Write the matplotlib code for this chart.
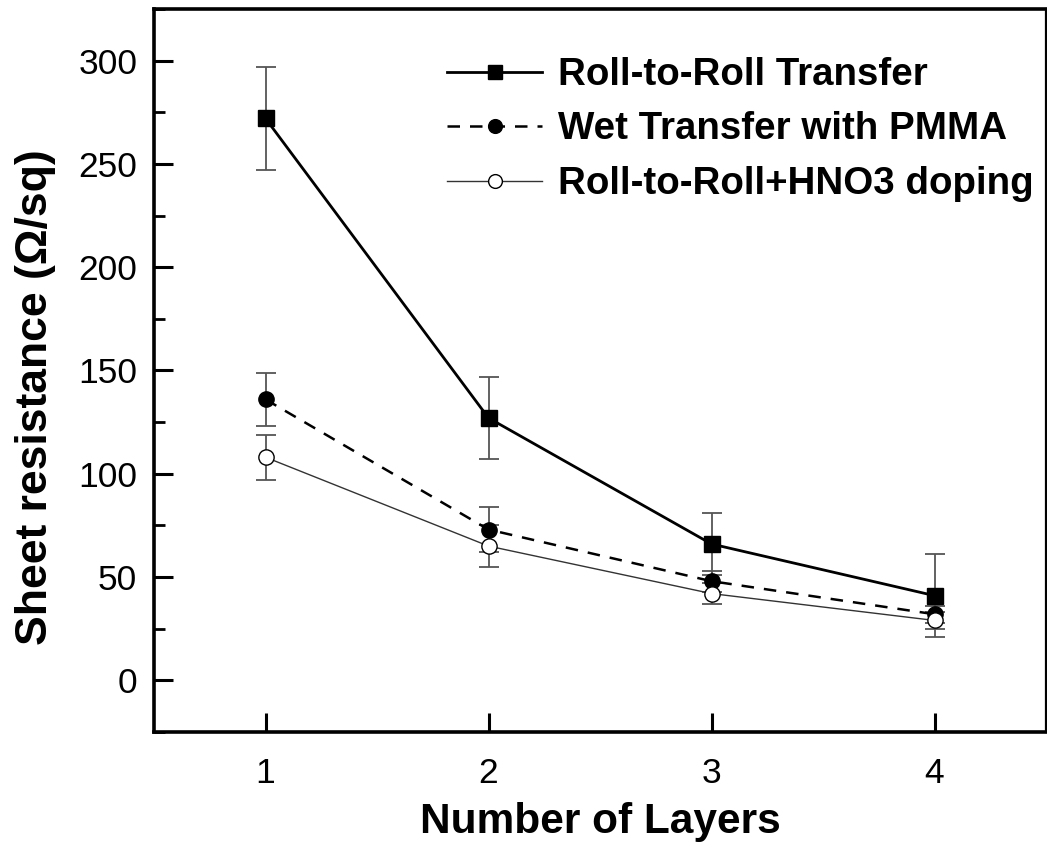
import matplotlib
matplotlib.use("Agg")
import matplotlib.pyplot as plt
from matplotlib.ticker import MultipleLocator

layers = [1, 2, 3, 4]
r2r = [272, 127, 66, 41]
r2r_err = [25, 20, 15, 20]
wet = [136, 73, 48, 32]
wet_err = [13, 11, 5, 4]
dop = [108, 65, 42, 29]
dop_err = [11, 10, 5, 4]
labels = ["Roll-to-Roll Transfer", "Wet Transfer with PMMA", "Roll-to-Roll+HNO3 doping"]

plt.rcParams['font.family'] = ['Liberation Sans', 'DejaVu Sans']

fig = plt.figure(figsize=(10.47, 8.48), dpi=100)
ax = fig.add_axes([0.1471, 0.1368, 0.852, 0.8526])

ebkw = dict(fmt='none', ecolor='#555555', elinewidth=1.3, capsize=7, capthick=1.3, zorder=1)
ax.errorbar(layers, r2r, yerr=r2r_err, **ebkw)
ax.errorbar(layers, wet, yerr=wet_err, **ebkw)
ax.errorbar(layers, dop, yerr=dop_err, **ebkw)

h1, = ax.plot(layers, r2r, '-', color='black', lw=2.0, marker='s', ms=11,
              mfc='black', mec='black', zorder=3, label=labels[0])
h2, = ax.plot(layers, wet, '--', color='black', lw=1.8, dashes=(5, 4), marker='o', ms=11,
              mfc='black', mec='black', zorder=3, label=labels[1])
h3, = ax.plot(layers, dop, '-', color='#333333', lw=1.0, marker='o', ms=11,
              mfc='white', mec='black', mew=1.0, zorder=4, label=labels[2])

ax.set_xlim(0.5, 4.5)
ax.set_ylim(-25, 325)
ax.set_xticks(layers)
ax.yaxis.set_major_locator(MultipleLocator(50))
ax.yaxis.set_minor_locator(MultipleLocator(25))
ax.tick_params(axis='both', which='major', direction='in', length=14, width=2.2,
               labelsize=25.5)
ax.tick_params(axis='y', which='major', pad=12)
ax.tick_params(axis='x', which='major', pad=18)
ax.tick_params(axis='y', which='minor', direction='in', length=8, width=2.0)
ax.tick_params(axis='x', which='minor', bottom=False)
for s in ['left', 'bottom', 'top']:
    ax.spines[s].set_linewidth(2.6)
ax.spines['right'].set_linewidth(1.6)

ax.set_xlabel("Number of Layers", fontsize=30.5, fontweight='bold', labelpad=9)
ax.set_ylabel("Sheet resistance (\u03a9/sq)", fontsize=32, fontweight='bold')
ax.yaxis.set_label_coords(-0.110, 0.463)

# legend font size fitted so the longest entry spans ~476 px
leg_family = ['Liberation Sans', 'DejaVu Sans']
renderer = fig.canvas.get_renderer()
probe = fig.text(0, 0, labels[2], family=leg_family, weight='bold', size=30)
w = probe.get_window_extent(renderer).width
probe.remove()
leg_size = 30 * 476.0 / w
em = leg_size * 100 / 72

leg = ax.legend(handles=[h1, h2, h3], loc='upper left',
                bbox_to_anchor=(447 / 1047, 1 - 57 / 848), bbox_transform=fig.transFigure,
                frameon=False, borderpad=0, borderaxespad=0, markerscale=0.9,
                handlelength=95 / em, handletextpad=16 / em,
                labelspacing=0.48,
                prop={'family': leg_family, 'weight': 'bold', 'size': leg_size})

fig.savefig("out.png", dpi=100)
